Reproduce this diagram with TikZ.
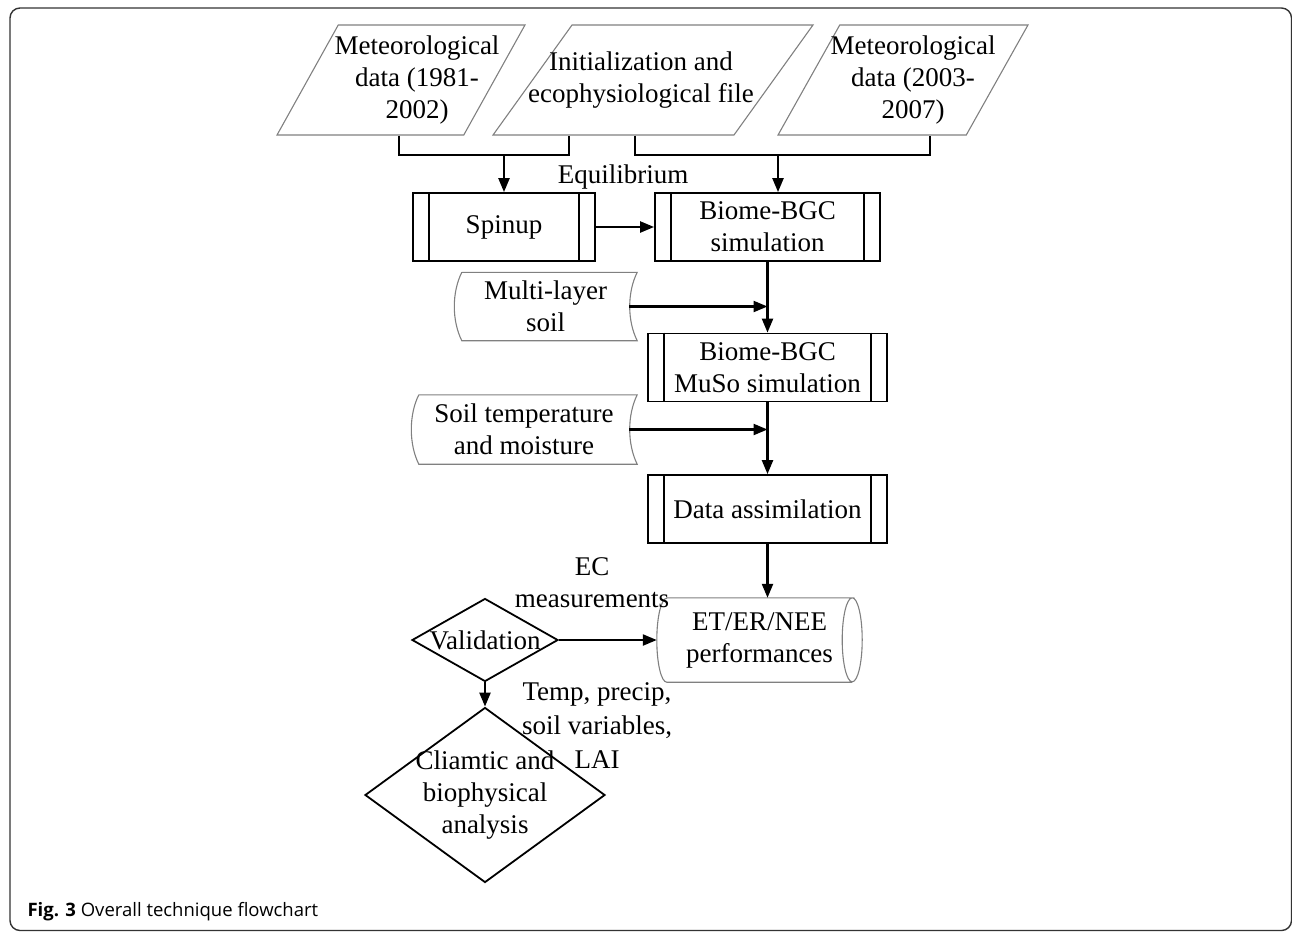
\documentclass[tikz,border=0pt]{standalone}
\usepackage{fontspec}
\setmainfont{Liberation Serif}
\newfontfamily\capfont{Open Sans}
\usetikzlibrary{shapes.geometric, arrows.meta}

\tikzset{
  every node/.style={font=\fontsize{27}{32}\selectfont},
  link/.style={line width=2.3pt},
  flow/.style={line width=2.3pt, -{Triangle[length=14pt,width=11pt]}},
  inout/.style={trapezium, trapezium left angle=64, trapezium right angle=116,
    trapezium stretches=true, draw=gray, line width=1.1pt, minimum height=110pt, inner sep=2pt},
  process/.style={draw, line width=1.8pt, minimum height=68pt, inner sep=0pt, align=center},
  stored/.style={minimum height=68pt, inner sep=0pt, align=center},
  decision/.style={diamond, draw, line width=1.8pt, inner sep=0pt},
  store/.style={minimum width=205pt, minimum height=84pt, inner sep=0pt, align=center},
}

\begin{document}
\begin{tikzpicture}[x=1pt, y=-1pt]
  \useasboundingbox (0,0) rectangle (1292,932);
  \draw[line width=1.4pt, rounded corners=10pt, black!80] (10,8) rectangle (1291.5,930.5);

  % input files
  \node[inout, minimum width=248pt, label={[align=center, xshift=16pt]center:Meteorological\\data (1981-\\2002)}] (met1) at (401,80) {};
  \node[inout, minimum width=320pt, label={[align=center, xshift=-12pt]center:Initialization and\\ecophysiological file}] (init) at (653,80) {};
  \node[inout, minimum width=250pt, label={[align=center, xshift=10pt]center:Meteorological\\data (2003-\\2007)}] (met2) at (903,80) {};
  \coordinate (j1) at (504,155);
  \coordinate (j2) at (778,155);

  % model runs
  \node[process, minimum width=182pt] (spin) at (504,227) {Spinup};
  \node[process, minimum width=225pt] (bgc) at (767.5,227) {Biome-BGC\\simulation};
  \node[process, minimum width=239pt] (muso) at (767.5,367.5) {Biome-BGC\\MuSo simulation};
  \node[process, minimum width=239pt] (da) at (767.5,509) {Data assimilation};
  \foreach \n in {spin,bgc,muso,da}
    \draw[line width=1.8pt] ([xshift=17pt]\n.north west) -- ([xshift=17pt]\n.south west)
      ([xshift=-17pt]\n.north east) -- ([xshift=-17pt]\n.south east);
  \node (equil) at (623,177) {Equilibrium};

  % soil data
  \node[stored, minimum width=183pt] (layer) at (545.5,306.5) {Multi-layer\\soil};
  \node[stored, minimum width=226pt, minimum height=69pt] (temp) at (524,429.5) {Soil temperature\\and moisture};
  \foreach \n in {layer,temp}
    \draw[gray, line width=1.1pt] ([xshift=8pt]\n.north west) -- (\n.north east)
      .. controls +(-10pt,-20pt) and +(-10pt,20pt) .. (\n.south east)
      -- ([xshift=8pt]\n.south west)
      .. controls +(-10pt,20pt) and +(-10pt,-20pt) .. ([xshift=8pt]\n.north west);

  % outputs
  \node[store] (et) at (759.5,640) {ET/ER/NEE\\performances};
  \draw[gray, line width=1.1pt] ([xshift=10pt]et.north west) -- ([xshift=-10pt]et.north east)
    arc[start angle=90, end angle=450, x radius=10pt, y radius=42pt]
    ([xshift=-10pt]et.south east) -- ([xshift=10pt]et.south west)
    arc[start angle=270, end angle=90, x radius=10pt, y radius=42pt];
  \node[decision, minimum width=146pt, minimum height=83pt, label=center:Validation] (valid) at (485,640) {};
  \node[decision, minimum width=240pt, minimum height=175pt, label={[align=center]center:Cliamtic and\\biophysical\\analysis}] (anal) at (485,795) {};
  \node[align=center] (ec) at (592,583) {EC\\measurements};
  \node[align=center, font=\fontsize{27}{34}\selectfont] (drivers) at (597,726) {Temp, precip,\\soil variables,\\LAI};

  % connectors
  \draw[link] ([xshift=-2pt]met1.south) |- (j1) -| ([xshift=-84pt]init.south);
  \draw[link] ([xshift=-18pt]init.south) |- (j2) -| ([xshift=27pt]met2.south);
  \draw[flow] (j1) -- (spin);
  \draw[flow] (j2) -- (j2 |- bgc.north);
  \draw[flow] (spin) -- (bgc);
  \draw[flow] (bgc) -- (muso);
  \draw[flow] ([xshift=-8pt]layer.east) -- (layer.east -| muso.north);
  \draw[flow] (muso) -- (da);
  \draw[flow] ([xshift=-8pt]temp.east) -- (temp.east -| da.north);
  \draw[flow] (da.south) -- (da.south |- et.north);
  \draw[flow] (valid) -- (et);
  \draw[flow] (valid) -- (anal);

  \node[anchor=west, font=\capfont\fontsize{18.5}{22}\selectfont] (cap) at (24,912) {\textbf{Fig. 3} Overall technique flowchart};
\end{tikzpicture}
\end{document}
